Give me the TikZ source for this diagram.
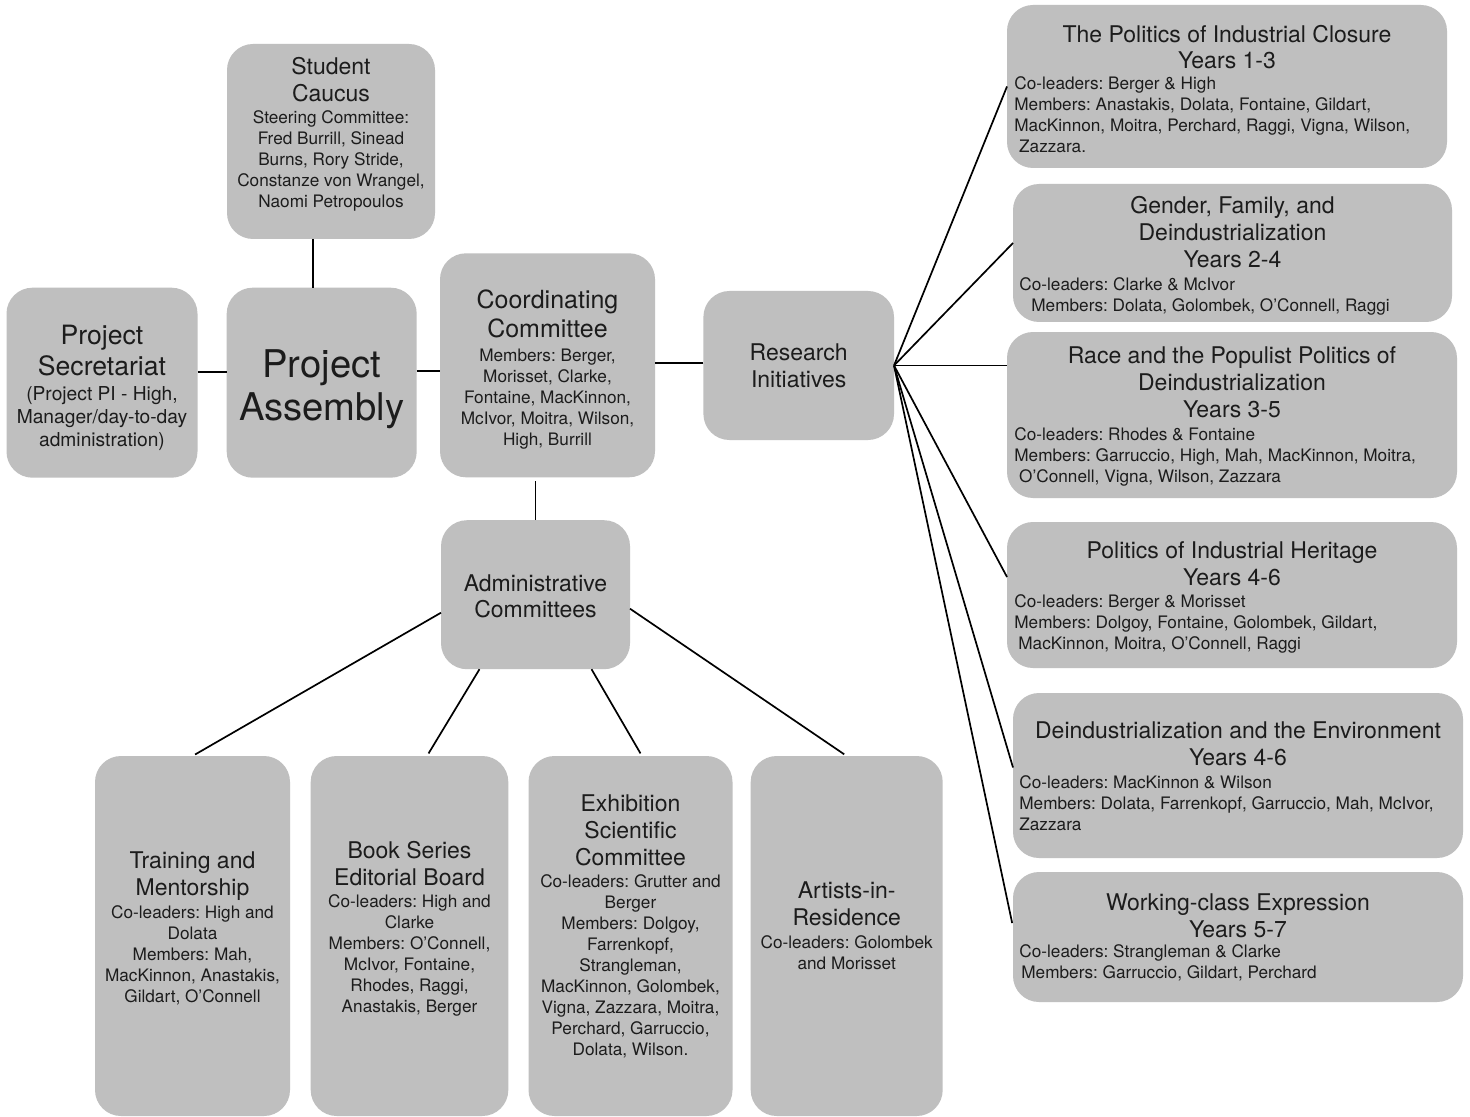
\documentclass[tikz,border=0pt]{standalone}
\usepackage{fontspec}
\setmainfont{TeX Gyre Heros}
\usetikzlibrary{calc}
\definecolor{boxgray}{RGB}{191,191,191}
\definecolor{txt}{RGB}{28,28,28}
\newcommand\fs{\rule{0pt}{0.8em}}
\frenchspacing
\begin{document}
\begin{tikzpicture}[x=0.5pt,y=-0.5pt,
 box/.style={fill=boxgray, rounded corners=13pt, inner sep=0pt, outer sep=0pt, draw=none},
 ttl/.style={font=\fontsize{11.5}{13.4}\selectfont, align=center, anchor=north, inner sep=0pt, text=txt},
 bdy/.style={font=\fontsize{8.6}{10.5}\selectfont, align=center, anchor=north, inner sep=0pt, text=txt},
 bdyl/.style={bdy, align=left, anchor=north west},
 link/.style={draw=black, line width=0.85pt}]
\fill[white] (0,0) rectangle (1470,1117);
\useasboundingbox (0,0) rectangle (1470,1117);

% boxes
\node[box, minimum width=104pt, minimum height=97.5pt] (caucus) at (331,141.5) {};
\node[box, minimum width=95.5pt, minimum height=95pt] (sec) at (102,382.7) {};
\node[box, minimum width=95pt, minimum height=95pt] (assembly) at (321.7,382.7) {};
\node[box, minimum width=107.5pt, minimum height=112pt] (coord) at (547.5,365.3) {};
\node[box, minimum width=95.3pt, minimum height=74.5pt] (ri) at (798.7,365.5) {};
\node[box, minimum width=94.5pt, minimum height=74.5pt] (admin) at (535.5,594.7) {};
\node[box, minimum width=97.5pt, minimum height=180pt] (train) at (192.5,936) {};
\node[box, minimum width=98.8pt, minimum height=180pt] (book) at (409.5,936) {};
\node[box, minimum width=102pt, minimum height=180pt] (exh) at (630.5,936) {};
\node[box, minimum width=96pt, minimum height=180pt] (art) at (846.7,936) {};
\node[box, minimum width=220pt, minimum height=81.5pt] (rb1) at (1227,86.5) {};
\node[box, minimum width=219.5pt, minimum height=69pt] (rb2) at (1232.5,253) {};
\node[box, minimum width=225pt, minimum height=83pt] (rb3) at (1232,415) {};
\node[box, minimum width=225pt, minimum height=73pt] (rb4) at (1232,595) {};
\node[box, minimum width=225pt, minimum height=82.5pt] (rb5) at (1238,775.5) {};
\node[box, minimum width=225pt, minimum height=65pt] (rb6) at (1238,937) {};

% texts
\node[ttl] (caucusT) at (331,55.9) {\fs Student\\Caucus};
\node[bdy] (caucusB) at (331,108.9) {\fs Steering Committee:\\Fred Burrill, Sinead\\Burns, Rory Stride,\\Constanze von Wrangel,\\Naomi Petropoulos};

\node[ttl, font=\fontsize{13.3}{15.5}\selectfont] (secT) at (102,322.7) {\fs Project\\Secretariat};
\node[bdy, font=\fontsize{9.6}{11.6}\selectfont] (secB) at (102,384.6) {\fs (Project PI - High,\\Manager/day-to-day\\administration)};

\node[ttl, font=\fontsize{19.1}{21.7}\selectfont] (assemblyT) at (321.7,346.1) {\fs Project\\Assembly};

\node[ttl, font=\fontsize{12.5}{14.5}\selectfont] (coordT) at (547.5,288.3) {\fs Coordinating\\Committee};
\node[bdy] (coordB) at (547.5,346.9) {\fs Members: Berger,\\Morisset, Clarke,\\Fontaine, MacKinnon,\\McIvor, Moitra, Wilson,\\High, Burrill};

\node[ttl] (riT) at (798.7,341.6) {\fs Research\\Initiatives};
\node[ttl] (adminT) at (535.5,572.3) {\fs Administrative\\Committees};

\node[ttl] (trainT) at (192.5,849.9) {\fs Training and\\Mentorship};
\node[bdy] (trainB) at (192.5,903.9) {\fs Co-leaders: High and\\Dolata\\Members: Mah,\\MacKinnon, Anastakis,\\Gildart, O'Connell};

\node[ttl] (bookT) at (409.5,839.9) {\fs Book Series\\Editorial Board};
\node[bdy] (bookB) at (409.5,892.9) {\fs Co-leaders: High and\\Clarke\\Members: O'Connell,\\McIvor, Fontaine,\\Rhodes, Raggi,\\Anastakis, Berger};

\node[ttl] (exhT) at (630.5,792.6) {\fs Exhibition\\Scientific\\Committee};
\node[bdy] (exhB) at (630.5,872.9) {\fs Co-leaders: Grutter and\\Berger\\Members: Dolgoy,\\Farrenkopf,\\Strangleman,\\MacKinnon, Golombek,\\Vigna, Zazzara, Moitra,\\Perchard, Garruccio,\\Dolata, Wilson.};

\node[ttl] (artT) at (846.7,879.9) {\fs Artists-in-\\Residence};
\node[bdy] (artB) at (846.7,934.5) {\fs Co-leaders: Golombek\\and Morisset};

\node[ttl] (rb1T) at (1227,23.3) {\fs The Politics of Industrial Closure\\Years 1-3};
\node[bdyl] (rb1B) at (1014,75.2) {\fs Co-leaders: Berger \& High\\Members: Anastakis, Dolata, Fontaine, Gildart,\\MacKinnon, Moitra, Perchard, Raggi, Vigna, Wilson,\\\hspace*{2.4pt}Zazzara.};

\node[ttl] (rb2T) at (1232.5,194.9) {\fs Gender, Family, and\\Deindustrialization\\Years 2-4};
\node[bdyl] (rb2B) at (1019,276.2) {\fs Co-leaders: Clarke \& McIvor\\\hspace*{6pt}Members: Dolata, Golombek, O'Connell, Raggi};

\node[ttl] (rb3T) at (1232,344.9) {\fs Race and the Populist Politics of\\Deindustrialization\\Years 3-5};
\node[bdyl] (rb3B) at (1014,426.2) {\fs Co-leaders: Rhodes \& Fontaine\\Members: Garruccio, High, Mah, MacKinnon, Moitra,\\\hspace*{2.4pt}O'Connell, Vigna, Wilson, Zazzara};

\node[ttl] (rb4T) at (1232,539.9) {\fs Politics of Industrial Heritage\\Years 4-6};
\node[bdyl] (rb4B) at (1014,592.9) {\fs Co-leaders: Berger \& Morisset\\Members: Dolgoy, Fontaine, Golombek, Gildart,\\\hspace*{2pt}MacKinnon, Moitra, O'Connell, Raggi};

\node[ttl] (rb5T) at (1238,719.9) {\fs Deindustrialization and the Environment\\Years 4-6};
\node[bdyl] (rb5B) at (1019,774.5) {\fs Co-leaders: MacKinnon \& Wilson\\Members: Dolata, Farrenkopf, Garruccio, Mah, McIvor,\\Zazzara};

\node[ttl] (rb6T) at (1238,891.6) {\fs Working-class Expression\\Years 5-7};
\node[bdyl] (rb6B) at (1019,943.5) {\fs Co-leaders: Strangleman \& Clarke\\\hspace*{1pt}Members: Garruccio, Gildart, Perchard};

% connectors
\coordinate (csx) at ([xshift=-9pt]caucus.south);
\draw[link] (csx) -- (csx |- assembly.north);
\draw[link] ([yshift=5.3pt]sec.east) coordinate (sa) -- (sa -| assembly.west);
\draw[link] ([yshift=5.8pt]assembly.east) coordinate (ac) -- (ac -| coord.west);
\draw[link] ([yshift=1.25pt]ri.west) coordinate (cr) -- (cr -| coord.east);
\draw[link, shorten >=2pt] (admin.north) -- (admin.north |- coord.south);

\draw[link] (ri.east) -- (rb1.west);
\draw[link] (ri.east) -- ([yshift=5pt]rb2.west);
\draw[link] (ri.east) -- (ri.east -| rb3.west);
\draw[link] (ri.east) -- ([yshift=9pt]rb4.west);
\draw[link] (ri.east) -- ([yshift=4pt]rb5.west);
\draw[link, shorten >=2pt] (ri.east) -- ([yshift=5pt]rb6.west);

\draw[link, shorten >=1.5pt] ([yshift=-9pt]admin.west) -- (train.north);
\draw[link, shorten >=1.5pt] ([xshift=-28pt]admin.south) -- ([xshift=8.75pt]book.north);
\draw[link, shorten >=1.5pt] ([xshift=28pt]admin.south) -- ([xshift=5.75pt]exh.north);
\draw[link, shorten >=1.5pt] ([yshift=-7pt]admin.east) -- (art.north);
\end{tikzpicture}
\end{document}
